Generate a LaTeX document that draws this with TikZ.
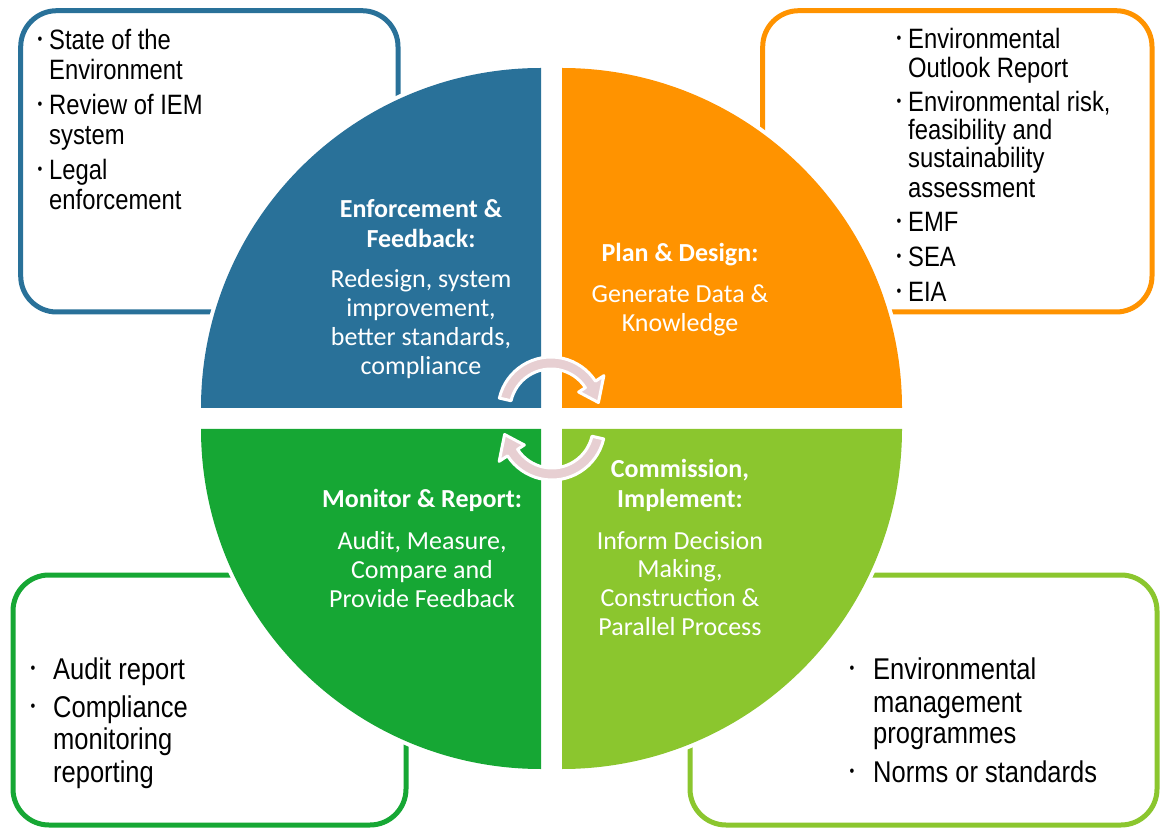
\documentclass[tikz,border=0pt]{standalone}
\usepackage{fontspec}
\setmainfont{Carlito}
\newfontfamily\narrowfont[FakeStretch=0.85]{Liberation Sans}
\usetikzlibrary{calc}
\definecolor{cblue}{RGB}{41,113,153}
\definecolor{corange}{RGB}{255,147,0}
\definecolor{cdgreen}{RGB}{22,167,52}
\definecolor{clgreen}{RGB}{139,198,46}
\definecolor{cpink}{RGB}{231,207,210}
\tikzset{
  boxframe/.style={line width=5pt, rounded corners=36pt, fill=white},
  ltxt/.style={anchor=base west, inner sep=0pt, font=\narrowfont\fontsize{28}{30}\selectfont},
  btxt/.style={anchor=base west, inner sep=0pt, font=\narrowfont\fontsize{30}{33}\selectfont},
  bul/.style={anchor=base, inner sep=0pt, font=\narrowfont\fontsize{16}{16}\selectfont},
  headtxt/.style={anchor=base, inner sep=0pt, text=white, font=\bfseries\fontsize{26}{29}\selectfont},
  bodytxt/.style={anchor=base, inner sep=0pt, text=white, font=\fontsize{26}{29}\selectfont},
  cyc/.style={fill=cpink, draw=white, line width=3pt, line join=round},
  cyclearrow/.pic={
    \path[cyc] ({167+#1}:53) arc[start angle={167+#1}, end angle={33+#1}, radius=53]
      -- ({33+#1}:63) -- ({9+#1}:48) -- ({33+#1}:33) -- ({33+#1}:41)
      arc[start angle={33+#1}, end angle={167+#1}, radius=41] -- cycle;
  }
}
\begin{document}
\begin{tikzpicture}[x=1pt,y=1pt]
\useasboundingbox (0,0) rectangle (1161,828);
% corner boxes
\draw[boxframe, draw=cblue] (20.7,817.3) rectangle (398,516);
\draw[boxframe, draw=corange] (762.7,817.3) rectangle (1152,516);
\draw[boxframe, draw=cdgreen] (13,253) rectangle (406,3);
\draw[boxframe, draw=clgreen] (690,253) rectangle (1157,3);
% white halo of the circle
\fill[white] (541,420) -- (541,764) arc[start angle=90, end angle=180, radius=344] -- cycle;
\fill[white] (562,420) -- (906,420) arc[start angle=0, end angle=90, radius=344] -- cycle;
\fill[white] (541,399) -- (197,399) arc[start angle=180, end angle=270, radius=344] -- cycle;
\fill[white] (562,399) -- (562,55) arc[start angle=270, end angle=360, radius=344] -- cycle;
% quadrants
\fill[cblue] (541,420) -- (541,760) arc[start angle=90, end angle=180, radius=340] -- cycle;
\fill[corange] (562,420) -- (902,420) arc[start angle=0, end angle=90, radius=340] -- cycle;
\fill[cdgreen] (541,399) -- (201,399) arc[start angle=180, end angle=270, radius=340] -- cycle;
\fill[clgreen] (562,399) -- (562,59) arc[start angle=270, end angle=360, radius=340] -- cycle;
% top-left box text
\node[bul] (tlb1) at (40,783) {•};
\node[ltxt] (tl1) at (49,778) {State of the};
\node[ltxt] (tl2) at (49,748) {Environment};
\node[bul] (tlb2) at (40,718) {•};
\node[ltxt] (tl3) at (49,713) {Review of IEM};
\node[ltxt] (tl4) at (49,683) {system};
\node[bul] (tlb3) at (40,653) {•};
\node[ltxt] (tl5) at (49,648) {Legal};
\node[ltxt] (tl6) at (49,618) {enforcement};
% top-right box text
\node[bul] (trb1) at (899,784) {•};
\node[ltxt] (tr1) at (908,779) {Environmental};
\node[ltxt] (tr2) at (908,750) {Outlook Report};
\node[bul] (trb2) at (899,721) {•};
\node[ltxt] (tr3) at (908,716) {Environmental risk,};
\node[ltxt] (tr4) at (908,688) {feasibility and};
\node[ltxt] (tr5) at (908,660) {sustainability};
\node[ltxt] (tr6) at (908,630) {assessment};
\node[bul] (trb3) at (899,601) {•};
\node[ltxt] (tr7) at (908,596) {EMF};
\node[bul] (trb4) at (899,566) {•};
\node[ltxt] (tr8) at (908,561) {SEA};
\node[bul] (trb5) at (899,531) {•};
\node[ltxt] (tr9) at (908,526) {EIA};
% bottom-left box text
\node[bul] (blb1) at (33,154.5) {•};
\node[btxt] (bl1) at (53,149) {Audit report};
\node[bul] (blb2) at (33,116.5) {•};
\node[btxt] (bl2) at (53,111) {Compliance};
\node[btxt] (bl3) at (53,79) {monitoring};
\node[btxt] (bl4) at (53,46) {reporting};
% bottom-right box text
\node[bul] (brb1) at (852,154.5) {•};
\node[btxt] (br1) at (873,149) {Environmental};
\node[btxt] (br2) at (873,116) {management};
\node[btxt] (br3) at (873,85) {programmes};
\node[bul] (brb2) at (852,51.5) {•};
\node[btxt] (br4) at (873,46) {Norms or standards};
% blue quadrant text
\node[headtxt] (q1a) at (421,610) {Enforcement \&};
\node[headtxt] (q1b) at (421,580) {Feedback:};
\node[bodytxt] (q1c) at (421,540) {Redesign, system};
\node[bodytxt] (q1d) at (421,511) {improvement,};
\node[bodytxt] (q1e) at (421,482) {better standards,};
\node[bodytxt] (q1f) at (421,453) {compliance};
% orange quadrant text
\node[headtxt] (q2a) at (680,566) {Plan \& Design:};
\node[bodytxt] (q2b) at (680,525) {Generate Data \&};
\node[bodytxt] (q2c) at (680,496) {Knowledge};
% light green quadrant text
\node[headtxt] (q3a) at (680,350) {Commission,};
\node[headtxt] (q3b) at (680,321) {Implement:};
\node[bodytxt] (q3c) at (680,279) {Inform Decision};
\node[bodytxt] (q3d) at (680,251) {Making,};
\node[bodytxt] (q3e) at (680,222) {Construction \&};
\node[bodytxt] (q3f) at (680,193) {Parallel Process};
% dark green quadrant text
\node[headtxt] (q4a) at (422,321) {Monitor \& Report:};
\node[bodytxt] (q4b) at (422,279) {Audit, Measure,};
\node[bodytxt] (q4c) at (422,250) {Compare and};
\node[bodytxt] (q4d) at (422,221) {Provide Feedback};
% cycle arrows
\pic at (551,418) {cyclearrow=0};
\pic at (552,401) {cyclearrow=180};
\end{tikzpicture}
\end{document}
